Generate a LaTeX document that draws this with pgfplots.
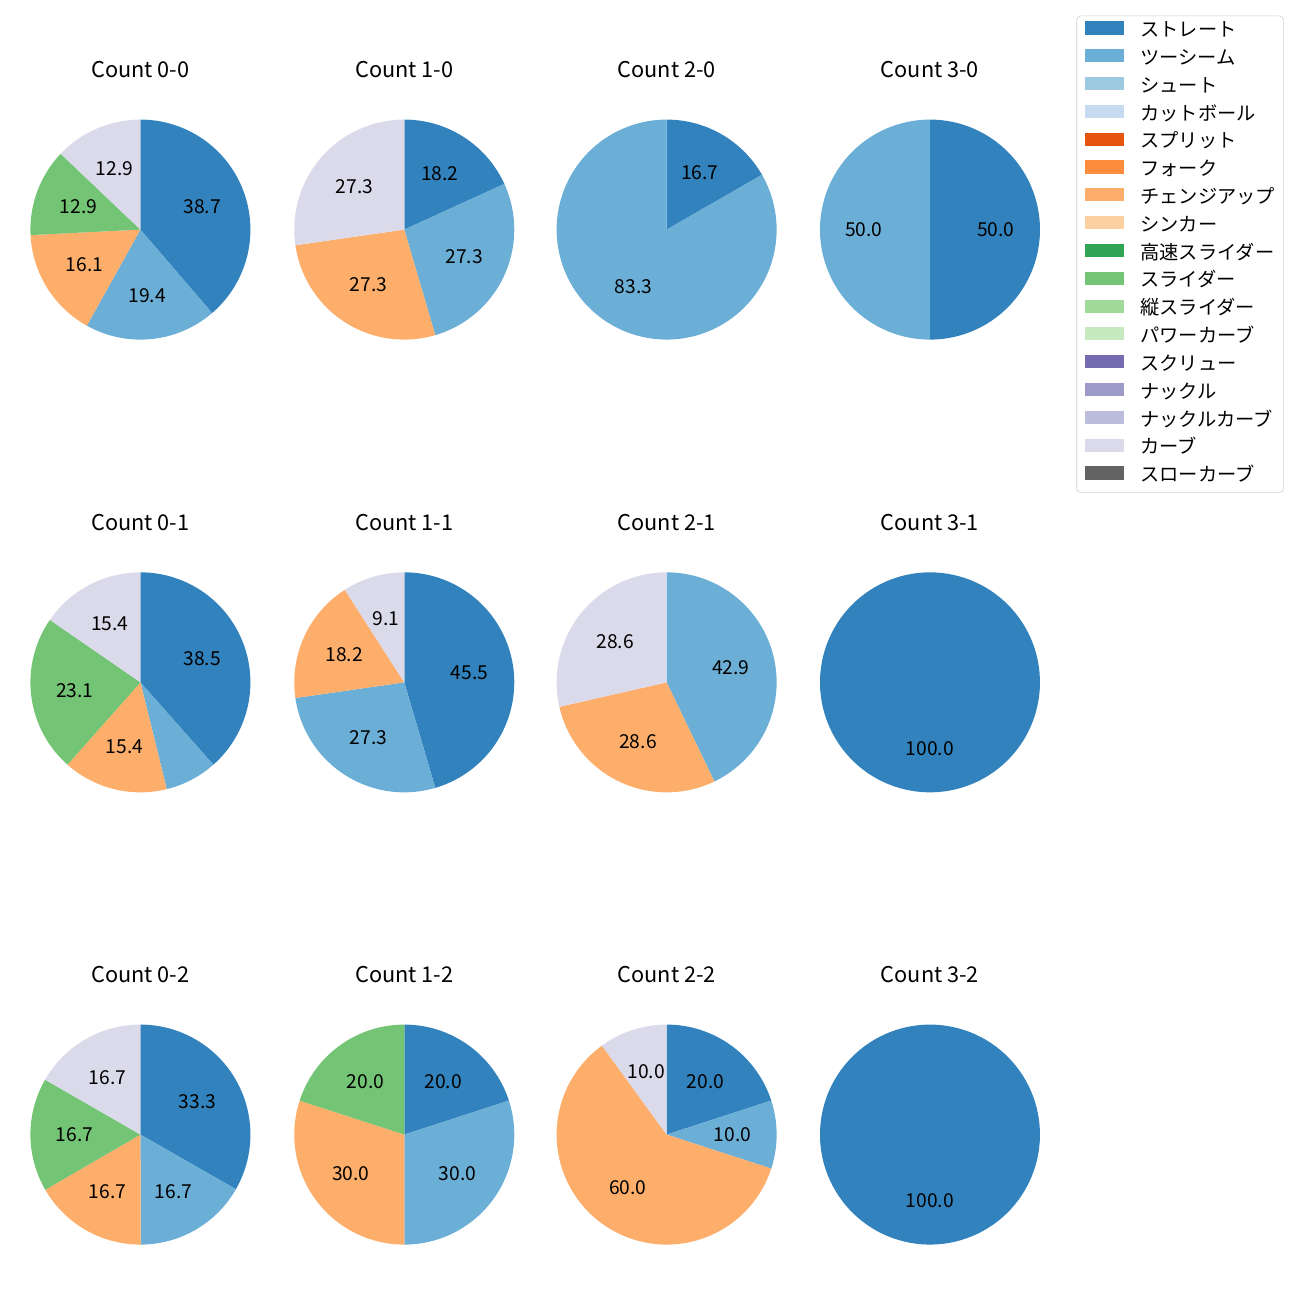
\documentclass[border=0pt]{standalone}
\usepackage{pgfplots}
\pgfplotsset{compat=1.18}
\usepackage{pgfplotstable}
\usepackage{fontspec}
\setmainfont{Noto Sans CJK JP}

\definecolor{cA}{HTML}{3182BD}
\definecolor{cB}{HTML}{6BAED6}
\definecolor{cC}{HTML}{9ECAE1}
\definecolor{cD}{HTML}{C6DBEF}
\definecolor{cE}{HTML}{E6550D}
\definecolor{cF}{HTML}{FD8D3C}
\definecolor{cG}{HTML}{FDAE6B}
\definecolor{cH}{HTML}{FDD0A2}
\definecolor{cI}{HTML}{31A354}
\definecolor{cJ}{HTML}{74C476}
\definecolor{cK}{HTML}{A1D99B}
\definecolor{cL}{HTML}{C7E9C0}
\definecolor{cM}{HTML}{756BB1}
\definecolor{cN}{HTML}{9E9AC8}
\definecolor{cO}{HTML}{BCBDDC}
\definecolor{cP}{HTML}{DADAEB}
\definecolor{cQ}{HTML}{636363}

\newcommand\numfont{\fontsize{13.9}{16}\selectfont}
\newcommand\titfont{\fontsize{15.7}{19}\selectfont}
\newcommand\legfont{\fontsize{13.9}{16}\selectfont}

% percentages per count (columns), pitch types in order: straight, two-seam, changeup, slider, curve
\pgfplotstableread{
col c00  c10  c20  c30  c01  c11  c21  c31   c02  c12  c22  c32
cA  38.7 18.2 16.7 50.0 38.5 45.5 0.0  100.0 33.3 20.0 20.0 100.0
cB  19.4 27.3 83.3 50.0 7.7  27.3 42.9 0.0   16.7 30.0 10.0 0.0
cG  16.1 27.3 0.0  0.0  15.4 18.2 28.6 0.0   16.7 30.0 60.0 0.0
cJ  12.9 0.0  0.0  0.0  23.1 0.0  0.0  0.0   16.7 20.0 0.0  0.0
cP  12.9 27.3 0.0  0.0  15.4 9.1  28.6 0.0   16.7 0.0  10.0 0.0
}\piedata

\newcommand\piewedges[1]{%
  \def\pietot{0}%
  \pgfplotsforeachungrouped \r in {0,...,4}{%
    \pgfplotstablegetelem{\r}{#1}\of\piedata
    \pgfmathsetmacro\pietot{\pietot+\pgfplotsretval}%
  }%
  \def\pieang{90}%
  \pgfplotsforeachungrouped \r in {0,...,4}{%
    \pgfplotstablegetelem{\r}{#1}\of\piedata
    \let\pieval\pgfplotsretval
    \pgfplotstablegetelem{\r}{col}\of\piedata
    \let\piecol\pgfplotsretval
    \pgfmathparse{\pieval>0 ? 1 : 0}%
    \ifdim\pgfmathresult pt>0.5pt
      \pgfmathsetmacro\pieend{\pieang-\pieval/\pietot*360}%
      \pgfmathsetmacro\piemid{(\pieang+\pieend)/2}%
      \edef\piecmd{\noexpand\addplot[fill=\piecol, draw=none, domain=\pieend:\pieang, samples=120, forget plot] ({cos(x)},{sin(x)}) -- (axis cs:0,0) -- cycle;}%
      \piecmd
      \pgfmathparse{\pieval>=8 ? 1 : 0}%
      \ifdim\pgfmathresult pt>0.5pt
        \pgfmathsetmacro\piex{0.6*cos(\piemid)}%
        \pgfmathsetmacro\piey{0.6*sin(\piemid)}%
        \edef\piecmd{\noexpand\node[font=\noexpand\numfont, inner sep=0pt] at (axis cs:\piex,\piey) {\pieval};}%
        \piecmd
      \fi
      \let\pieang\pieend
    \fi
  }%
}

\pgfplotsset{pieax/.style={scale only axis, width=2.2in, height=2.2in,
  xmin=-1, xmax=1, ymin=-1, ymax=1, hide axis, clip=false, anchor=center,
  title style={font=\titfont, at={(0.5,1.154)}, anchor=base, inner sep=0pt}}}

\begin{document}
\begin{tikzpicture}
\useasboundingbox (0,0) rectangle (13in,13in);
% row 1
\begin{axis}[pieax, at={(140.5*0.01in,1071*0.01in)}, title={Count 0-0}]
\piewedges{c00}
\end{axis}
\begin{axis}[pieax, at={(404.5*0.01in,1071*0.01in)}, title={Count 1-0}]
\piewedges{c10}
\end{axis}
\begin{axis}[pieax, at={(667*0.01in,1071*0.01in)}, title={Count 2-0}]
\piewedges{c20}
\end{axis}
\begin{axis}[pieax, at={(930.5*0.01in,1071*0.01in)}, title={Count 3-0},
  legend cell align=left,
  legend image code/.code={\fill[#1, sharp corners] (0pt,-1.5pt) rectangle (28pt,8pt);},
  legend style={at={(1.1659,1.4727)}, anchor=north west, draw=black!20,
    rounded corners=3pt, fill=white, font=\legfont,
    inner xsep=6pt, inner ysep=4pt, row sep=5.1pt, column sep=12pt,
    nodes={inner sep=0pt, text height=10pt, text depth=4pt}}]
\piewedges{c30}
\addlegendimage{fill=cA, draw=none}\addlegendentry{ストレート}
\addlegendimage{fill=cB, draw=none}\addlegendentry{ツーシーム}
\addlegendimage{fill=cC, draw=none}\addlegendentry{シュート}
\addlegendimage{fill=cD, draw=none}\addlegendentry{カットボール}
\addlegendimage{fill=cE, draw=none}\addlegendentry{スプリット}
\addlegendimage{fill=cF, draw=none}\addlegendentry{フォーク}
\addlegendimage{fill=cG, draw=none}\addlegendentry{チェンジアップ}
\addlegendimage{fill=cH, draw=none}\addlegendentry{シンカー}
\addlegendimage{fill=cI, draw=none}\addlegendentry{高速スライダー}
\addlegendimage{fill=cJ, draw=none}\addlegendentry{スライダー}
\addlegendimage{fill=cK, draw=none}\addlegendentry{縦スライダー}
\addlegendimage{fill=cL, draw=none}\addlegendentry{パワーカーブ}
\addlegendimage{fill=cM, draw=none}\addlegendentry{スクリュー}
\addlegendimage{fill=cN, draw=none}\addlegendentry{ナックル}
\addlegendimage{fill=cO, draw=none}\addlegendentry{ナックルカーブ}
\addlegendimage{fill=cP, draw=none}\addlegendentry{カーブ}
\addlegendimage{fill=cQ, draw=none}\addlegendentry{スローカーブ}
\end{axis}
% row 2
\begin{axis}[pieax, at={(140.5*0.01in,618*0.01in)}, title={Count 0-1}]
\piewedges{c01}
\end{axis}
\begin{axis}[pieax, at={(404.5*0.01in,618*0.01in)}, title={Count 1-1}]
\piewedges{c11}
\end{axis}
\begin{axis}[pieax, at={(667*0.01in,618*0.01in)}, title={Count 2-1}]
\piewedges{c21}
\end{axis}
\begin{axis}[pieax, at={(930.5*0.01in,618*0.01in)}, title={Count 3-1}]
\piewedges{c31}
\end{axis}
% row 3
\begin{axis}[pieax, at={(140.5*0.01in,165.5*0.01in)}, title={Count 0-2}]
\piewedges{c02}
\end{axis}
\begin{axis}[pieax, at={(404.5*0.01in,165.5*0.01in)}, title={Count 1-2}]
\piewedges{c12}
\end{axis}
\begin{axis}[pieax, at={(667*0.01in,165.5*0.01in)}, title={Count 2-2}]
\piewedges{c22}
\end{axis}
\begin{axis}[pieax, at={(930.5*0.01in,165.5*0.01in)}, title={Count 3-2}]
\piewedges{c32}
\end{axis}
\end{tikzpicture}
\end{document}
